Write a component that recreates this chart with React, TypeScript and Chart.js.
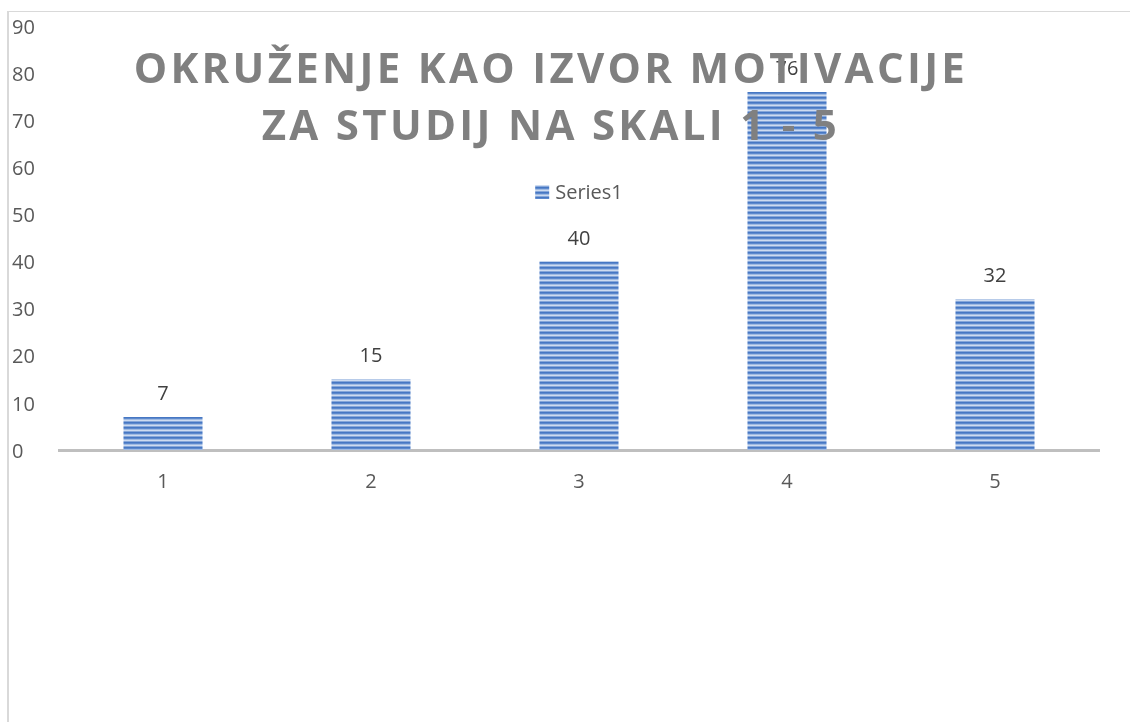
import React, { useEffect, useRef } from "react";
import { Chart, registerables } from "chart.js";

Chart.register(...registerables);

const categories = ["1", "2", "3", "4", "5"];
const values = [7, 15, 40, 76, 32];
const seriesName = "Series1";
const titleLines = ["OKRUŽENJE KAO IZVOR MOTIVACIJE", "ZA STUDIJ NA SKALI 1 - 5"];
const yMin = 0;
const yMax = 90;
const yStep = 10;

const FONT = "'Open Sans', 'DejaVu Sans', sans-serif";

function makeStripePattern(ctx: CanvasRenderingContext2D) {
  const c = document.createElement("canvas");
  c.width = 1;
  c.height = 5;
  const g = c.getContext("2d")!;
  const rows = ["#4677c3", "#5d89cd", "#9fbae2", "#cddbf0", "#86a7da"];
  rows.forEach((col, i) => {
    g.fillStyle = col;
    g.fillRect(0, i, 1, 1);
  });
  return ctx.createPattern(c, "repeat")!;
}

export default function App() {
  const ref = useRef<HTMLCanvasElement | null>(null);

  useEffect(() => {
    const canvas = ref.current!;
    const ctx0 = canvas.getContext("2d")!;
    const pattern = makeStripePattern(ctx0);

    const overlay = {
      id: "overlay",
      afterDatasetsDraw(chart: any) {
        const ctx: CanvasRenderingContext2D = chart.ctx;
        const meta = chart.getDatasetMeta(0);
        const area = chart.chartArea;
        ctx.save();

        // data labels
        ctx.font = `20px ${FONT}`;
        ctx.fillStyle = "#404040";
        ctx.textAlign = "center";
        ctx.textBaseline = "alphabetic";
        meta.data.forEach((el: any, i: number) => {
          ctx.fillText(String(values[i]), el.x, el.y - 17);
        });

        // legend
        const cx = (area.left + area.right) / 2;
        ctx.font = `20px ${FONT}`;
        const tw = ctx.measureText(seriesName).width;
        const box = 14;
        const gap = 6;
        const total = box + gap + tw;
        const lx = cx - total / 2;
        const ly = area.top + 159;
        ctx.fillStyle = pattern;
        ctx.fillRect(lx, ly, box, box);
        ctx.fillStyle = "#595959";
        ctx.textAlign = "left";
        ctx.fillText(seriesName, lx + box + gap, ly + box);

        // title
        const tx = area.left + (area.right - area.left) * 0.473;
        ctx.font = `bold 42px ${FONT}`;
        (ctx as any).letterSpacing = "3.3px";
        ctx.fillStyle = "#808080";
        ctx.textAlign = "center";
        titleLines.forEach((t, i) => {
          ctx.fillText(t, tx, 71 + i * 57);
        });
        ctx.restore();
      },
    };

    const chart = new Chart(canvas, {
      type: "bar",
      data: {
        labels: categories,
        datasets: [
          {
            label: seriesName,
            data: values,
            backgroundColor: pattern,
            borderWidth: 0,
            categoryPercentage: 1,
            barPercentage: 0.38,
          },
        ],
      },
      options: {
        responsive: false,
        animation: false,
        devicePixelRatio: 1,
        layout: { padding: { left: 3, right: 31, top: 14, bottom: 200 } },
        plugins: {
          legend: { display: false },
          title: { display: false },
          tooltip: { enabled: false },
        },
        scales: {
          x: {
            grid: { display: false, drawTicks: false },
            border: { display: true, color: "#bfbfbf", width: 3 },
            ticks: {
              color: "#595959",
              font: { family: FONT, size: 20 },
              padding: 20,
            },
            afterFit(scale: any) {
              scale.height = 72;
            },
          },
          y: {
            min: yMin,
            max: yMax,
            grid: { display: false, drawTicks: false },
            border: { display: false },
            ticks: {
              stepSize: yStep,
              color: "#595959",
              font: { family: FONT, size: 20 },
              crossAlign: "far",
              padding: 0,
              labelOffset: 2,
            },
            afterFit(scale: any) {
              scale.width = 47;
            },
          },
        },
      },
      plugins: [overlay],
    });

    return () => chart.destroy();
  }, []);

  return (
    <div
      style={{
        position: "fixed",
        left: 0,
        top: 0,
        width: 1130,
        height: 722,
        overflow: "hidden",
        background: "#ffffff",
      }}
    >
      <div
        style={{
          position: "absolute",
          left: 7,
          top: 11,
          width: 1200,
          height: 800,
          borderLeft: "2px solid #d9d9d9",
          borderTop: "1px solid #d9d9d9",
        }}
      >
        <canvas ref={ref} width={1121} height={710} style={{ display: "block" }} />
      </div>
    </div>
  );
}
